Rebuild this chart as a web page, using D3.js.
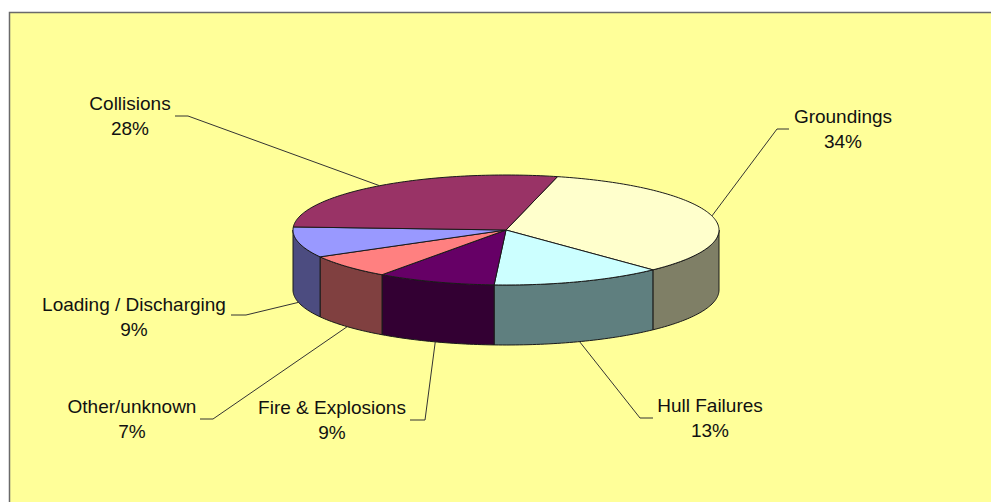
<!DOCTYPE html>
<html>
<head>
	<title>Pie 3D</title>
	<meta charset='utf-8'>
	<style>
		body {
			margin: 0;
			background: #fff;
		}
		.frame {
			fill: #ffff99;
			stroke: #6a6a6a;
			stroke-width: 1.5px;
		}
		.slice, .wall {
			stroke: #1a1a1a;
			stroke-width: 1px;
			stroke-linejoin: round;
		}
		.leader {
			fill: none;
			stroke: #333;
			stroke-width: 1px;
		}
		.label text {
			font-family: 'Liberation Sans', Arial, sans-serif;
			font-size: 19px;
			fill: #111;
			text-anchor: middle;
		}
	</style>
</head>
<body>
<div id="chart"></div>
<script src='https://cdnjs.cloudflare.com/ajax/libs/d3/7.8.5/d3.min.js'></script>
<script>
	'use strict';

	// данные
	const categories = ['Groundings', 'Hull Failures', 'Fire & Explosions', 'Other/unknown', 'Loading / Discharging', 'Collisions'];
	const values = [34, 13, 9, 7, 9, 28];
	const percentLabels = ['34%', '13%', '9%', '7%', '9%', '28%'];

	// цвета верха и боковой стенки
	const topColors = ['#ffffcc', '#ccffff', '#660066', '#ff8080', '#9999ff', '#993366'];
	const sideColors = ['#7f7f66', '#5f7f7f', '#330033', '#804040', '#4c4c80', '#4c1933'];

	// где стоят подписи: центр текста, базовая линия, горизонтальный кусок выноски
	const labelLayout = [
		{x: 843, y: 123, lx: 789, ex: 777, ly: 129},
		{x: 710, y: 412, lx: 653, ex: 640, ly: 418},
		{x: 332, y: 414, lx: 410, ex: 425, ly: 420},
		{x: 132, y: 413, lx: 200, ex: 213, ly: 419},
		{x: 134, y: 311, lx: 231, ex: 246, ly: 315},
		{x: 130, y: 110, lx: 175, ex: 188, ly: 116}
	];

	const W = 991, H = 502;
	const cx = 506, cy = 230, rx = 213, ry = 55, depth = 60;
	const startAngle = 14 * Math.PI / 180;

	const xScale = d3.scaleLinear().domain([-1, 1]).range([cx - rx, cx + rx]);
	const yScale = d3.scaleLinear().domain([-1, 1]).range([cy - ry, cy + ry]);

	function pt(a, dy) {
		return [xScale(Math.sin(a)), yScale(-Math.cos(a)) + (dy || 0)];
	}

	function arcPoints(a0, a1, dy) {
		const n = Math.max(2, Math.ceil((a1 - a0) / 0.02));
		return d3.range(n + 1).map(i => pt(a0 + (a1 - a0) * i / n, dy));
	}

	const data = categories.map((c, i) => ({name: c, value: values[i], pct: percentLabels[i], i: i}));

	const pie = d3.pie()
		.sort(null)
		.value(d => d.value)
		.startAngle(startAngle)
		.endAngle(startAngle + 2 * Math.PI);

	const arcs = pie(data);

	const svg = d3.select('#chart').append('svg')
		.attr('width', W)
		.attr('height', H);

	svg.append('rect')
		.attr('class', 'frame')
		.attr('x', 9.5)
		.attr('y', 12.5)
		.attr('width', W + 20)
		.attr('height', H + 20);

	const line = d3.line();

	// передние стенки (видимая половина 90°..270°)
	const fronts = [[Math.PI / 2, 3 * Math.PI / 2], [5 * Math.PI / 2, 7 * Math.PI / 2]];
	arcs.forEach(a => {
		fronts.forEach(f => {
			const a0 = Math.max(a.startAngle, f[0]);
			const a1 = Math.min(a.endAngle, f[1]);
			if (a1 <= a0) return;
			const pts = arcPoints(a0, a1, 0).concat(arcPoints(a0, a1, depth).reverse());
			svg.append('path')
				.attr('class', 'wall')
				.attr('fill', sideColors[a.data.i])
				.attr('d', line(pts) + 'Z');
		});
	});

	// верх
	svg.selectAll('.slice')
		.data(arcs)
		.enter().append('path')
		.attr('class', 'slice')
		.attr('fill', d => topColors[d.data.i])
		.attr('d', d => line([[cx, cy]].concat(arcPoints(d.startAngle, d.endAngle, 0))) + 'Z');

	// выноски и подписи
	arcs.forEach(a => {
		const mid = (a.startAngle + a.endAngle) / 2;
		const front = -Math.cos(mid) > 0;
		const anchor = pt(mid, front ? depth : 0);
		const L = labelLayout[a.data.i];
		svg.append('path')
			.attr('class', 'leader')
			.attr('d', line([[L.lx, L.ly], [L.ex, L.ly], anchor]));

		const g = svg.append('g').attr('class', 'label');
		g.append('text').attr('x', L.x).attr('y', L.y).text(a.data.name);
		g.append('text').attr('x', L.x).attr('y', L.y + 25).text(a.data.pct);
	});
</script>
</body>
</html>
